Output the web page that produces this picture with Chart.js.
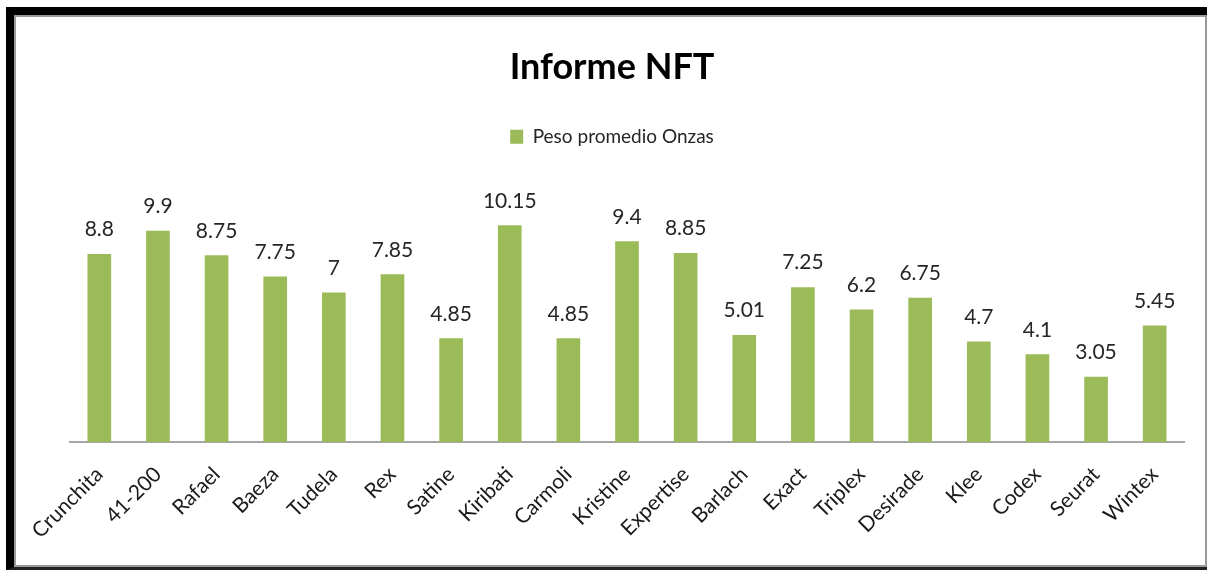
<!DOCTYPE html>
<html>
<head>
<meta charset="utf-8">
<script src="https://cdn.jsdelivr.net/npm/chart.js@4.4.0/dist/chart.umd.min.js"></script>
<style>
  html, body { margin: 0; padding: 0; background: #fff; }
  #wrap { position: relative; width: 1208px; height: 571px; overflow: hidden; }
  canvas { position: absolute; left: 0; top: 0; }
  #frame { position: absolute; left: 6px; top: 7px; width: 1193px; height: 552px;
           border-left: 8px solid #000; border-top: 8px solid #000; border-bottom: 3px solid #222; pointer-events: none; }
  #inner { position: absolute; left: 0; top: 0; right: 0; bottom: 0; border: 2px solid #9a9a9a; }
</style>
</head>
<body>
<div id="wrap">
  <canvas id="c" width="1208" height="571"></canvas>
  <div id="frame"><div id="inner"></div></div>
</div>
<script>
const chartTitle = "Informe NFT";
const seriesName = "Peso promedio Onzas";
const categories = ["Crunchita", "41-200", "Rafael", "Baeza", "Tudela", "Rex", "Satine", "Kiribati", "Carmoli", "Kristine", "Expertise", "Barlach", "Exact", "Triplex", "Desirade", "Klee", "Codex", "Seurat", "Wintex"];
const values = [8.8, 9.9, 8.75, 7.75, 7, 7.85, 4.85, 10.15, 4.85, 9.4, 8.85, 5.01, 7.25, 6.2, 6.75, 4.7, 4.1, 3.05, 5.45];

const FONT = "Lato, 'Open Sans', sans-serif";

const bgPlugin = {
  id: 'bg',
  beforeDraw(chart) {
    const ctx = chart.ctx;
    ctx.save();
    ctx.fillStyle = '#fff';
    ctx.fillRect(0, 0, chart.width, chart.height);
    ctx.restore();
  }
};

const labelPlugin = {
  id: 'valueLabels',
  afterDatasetsDraw(chart) {
    const ctx = chart.ctx;
    const meta = chart.getDatasetMeta(0);
    ctx.save();
    ctx.font = "21px " + FONT;
    ctx.fillStyle = '#262626';
    ctx.textAlign = 'center';
    ctx.textBaseline = 'alphabetic';
    meta.data.forEach((bar, i) => {
      ctx.fillText(String(values[i]), bar.x, bar.y - 18);
    });
    ctx.restore();
  }
};

new Chart(document.getElementById('c'), {
  type: 'bar',
  data: {
    labels: categories,
    datasets: [{
      label: seriesName,
      data: values,
      backgroundColor: '#9BBB59',
      borderWidth: 0,
      barThickness: 23
    }]
  },
  options: {
    responsive: false,
    animation: false,
    layout: { padding: { left: 40, right: 24, top: 0, bottom: 9 } },
    plugins: {
      title: {
        display: true,
        text: chartTitle,
        color: '#000',
        font: { family: FONT, size: 36, weight: 'bold' },
        padding: { top: 46, bottom: 28 }
      },
      legend: {
        display: true,
        position: 'top',
        labels: {
          color: '#262626',
          font: { family: FONT, size: 19 },
          boxWidth: 13,
          boxHeight: 14,
          padding: 10
        }
      },
      tooltip: { enabled: false }
    },
    scales: {
      x: {
        grid: { display: false, drawTicks: false },
        border: { display: true, color: '#a6a6a6', width: 2 },
        ticks: {
          color: '#1a1a1a',
          font: { family: FONT, size: 21 },
          minRotation: 45,
          maxRotation: 45,
          padding: 20,
          autoSkip: false
        },
        afterFit(scale) { scale.height = 120; }
      },
      y: {
        display: true,
        min: 0,
        max: 13.41,
        grid: { display: false, drawTicks: false },
        border: { display: false },
        ticks: { display: false },
        afterFit(scale) { scale.width = 30; }
      }
    }
  },
  plugins: [bgPlugin, labelPlugin]
});
</script>
</body>
</html>
